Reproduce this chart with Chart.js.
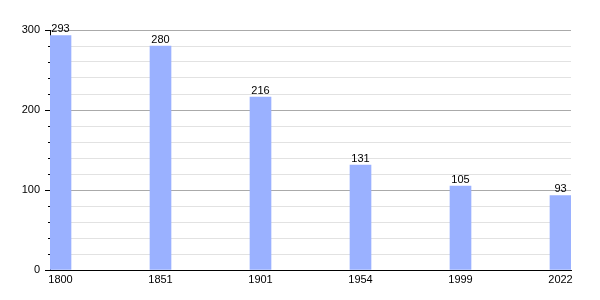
<!DOCTYPE html>
<html>
<head>
<meta charset="utf-8">
<script src="https://cdn.jsdelivr.net/npm/chart.js@4"></script>
<style>
  html, body { margin: 0; padding: 0; background: #fff; }
  #wrap { width: 600px; height: 300px; }
</style>
</head>
<body>
<div id="wrap"><canvas id="chart" width="600" height="300"></canvas></div>
<script>
// data
const years = ['1800', '1851', '1901', '1954', '1999', '2022'];
const population = [293, 280, 216, 131, 105, 93];
const yMax = 300;
const yStep = 20;

const barColor = '#9ab1ff';

// value labels above each bar
const valueLabels = {
    id: 'valueLabels',
    afterDatasetsDraw(chart) {
        const ctx = chart.ctx;
        const meta = chart.getDatasetMeta(0);
        ctx.save();
        ctx.font = '11px "Liberation Sans", Arial, sans-serif';
        ctx.fillStyle = '#000';
        ctx.textAlign = 'center';
        ctx.textBaseline = 'bottom';
        meta.data.forEach((bar, i) => {
            ctx.fillText(String(population[i]), bar.x, bar.y - 1);
        });
        ctx.restore();
    }
};

// short minor ticks on the y axis
const minorTicks = {
    id: 'minorTicks',
    afterDraw(chart) {
        const y = chart.scales.y;
        const ctx = chart.ctx;
        ctx.save();
        ctx.strokeStyle = '#000';
        ctx.lineWidth = 1;
        y.ticks.forEach(t => {
            if (t.value % 100 !== 0) {
                const py = Math.round(y.getPixelForValue(t.value)) + 0.5;
                ctx.beginPath();
                ctx.moveTo(y.right - 2, py);
                ctx.lineTo(y.right, py);
                ctx.stroke();
            }
        });
        ctx.restore();
    }
};

new Chart(document.getElementById('chart'), {
    type: 'bar',
    data: {
        datasets: [{
            data: population.map((v, i) => ({ x: i, y: v })),
            backgroundColor: barColor,
            borderWidth: 0,
            barThickness: 21
        }]
    },
    options: {
        responsive: false,
        animation: false,
        layout: { padding: { left: 0, right: 29, top: 30, bottom: 0 } },
        plugins: { legend: { display: false }, tooltip: { enabled: false } },
        scales: {
            x: {
                type: 'linear',
                offset: false,
                min: -0.105,
                max: 5.105,
                afterBuildTicks(scale) {
                    scale.ticks = years.map((_, i) => ({ value: i }));
                },
                afterFit(scale) { scale.height = 30; },
                grid: { display: false, offset: false, drawTicks: false, tickLength: 0 },
                border: { display: true, color: '#000', width: 1 },
                ticks: {
                    autoSkip: false,
                    maxRotation: 0,
                    padding: 3,
                    color: '#000',
                    font: { family: '"Liberation Sans", Arial, sans-serif', size: 11 },
                    callback: (v) => years[v]
                }
            },
            y: {
                min: 0,
                max: yMax,
                afterFit(scale) { scale.width = 50; },
                ticks: {
                    stepSize: yStep,
                    autoSkip: false,
                    maxTicksLimit: 100,
                    padding: 5,
                    color: '#000',
                    font: { family: '"Liberation Sans", Arial, sans-serif', size: 11 },
                    callback: (v) => (v % 100 === 0 ? v : '')
                },
                grid: {
                    color: (c) => (c.tick && c.tick.value % 100 === 0 ? '#aaaaaa' : '#e2e2e2'),
                    tickColor: (c) => (c.tick && c.tick.value % 100 === 0 ? '#000' : 'rgba(0,0,0,0)'),
                    tickLength: 5
                },
                border: { display: true, color: '#000', width: 1 }
            }
        }
    },
    plugins: [valueLabels, minorTicks]
});
</script>
</body>
</html>
